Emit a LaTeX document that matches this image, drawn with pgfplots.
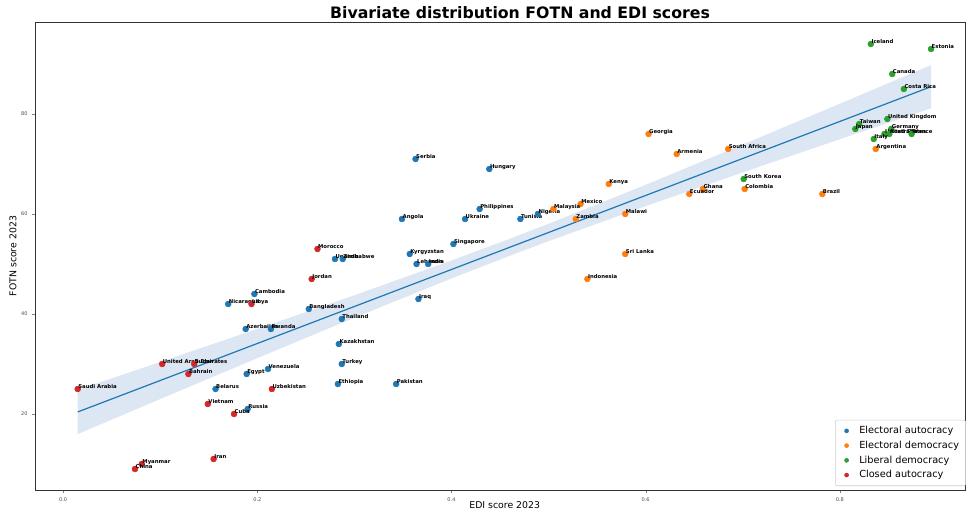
\documentclass[border=0pt]{standalone}
\usepackage{fontspec}
\setmainfont{DejaVu Sans}
\usepackage{pgfplots}
\pgfplotsset{compat=1.18}
\definecolor{cEA}{HTML}{1F77B4}
\definecolor{cED}{HTML}{FF7F0E}
\definecolor{cLD}{HTML}{2CA02C}
\definecolor{cCA}{HTML}{D62728}
\definecolor{band}{HTML}{DCE7F3}
\pgfplotsset{pts/.style={only marks, mark=*, mark size=2.2pt, point meta=explicit symbolic,
  nodes near coords={\pgfplotspointmeta},
  every node near coord/.append style={black, font=\bfseries\fontsize{4}{4.5}\selectfont, anchor=base west, inner sep=0pt, xshift=0.3pt}}}
\begin{document}
\begin{tikzpicture}
\begin{axis}[
  at={(0,0)}, anchor=south west,
  scale only axis, width=697.5pt, height=351pt,
  xmin=-0.029, xmax=0.929, ymin=4.8, ymax=98.4,
  xtick={0,0.2,0.4,0.6,0.8}, ytick={20,40,60,80},
  xticklabel style={/pgf/number format/.cd, fixed, fixed zerofill, precision=1},
  /pgf/number format/assume math mode=true,
  tick label style={font=\fontsize{3.8}{4}\selectfont, color=black!70},
  tick align=outside, major tick length=2pt,
  xtick pos=bottom, ytick pos=left,
  axis line style={black!80, line width=0.5pt},
  title={Bivariate distribution FOTN and EDI scores},
  title style={font=\bfseries\fontsize{11.8}{13}\selectfont, at={(axis description cs:0.5215,1)}, anchor=center, yshift=1.2pt},
  xlabel={EDI score 2023},
  ylabel={FOTN score 2023},
  xlabel style={font=\fontsize{7}{8}\selectfont, at={(axis description cs:0.505,-0.032)}, anchor=center},
  ylabel style={font=\fontsize{7}{8}\selectfont, at={(axis description cs:-0.0237,0.5)}, anchor=center, rotate=0},
  legend style={at={(axis description cs:1.001,0.0085)}, anchor=south east, font=\fontsize{7.3}{8}\selectfont, draw=black!20, rounded corners=1.5pt, row sep=0pt, inner xsep=3pt, inner ysep=2.5pt},
  legend image code/.code={\path[draw=none, fill=none] (0pt,0pt) -- (13pt,0pt); \draw[mark=*, mark size=1.5pt, #1] plot coordinates {(5.5pt,0pt)};},
  legend cell align=left,
  clip=false,
]
\addplot[fill=band, draw=none, forget plot] coordinates {
(0.015,24.83) (0.1,30.41) (0.2,37.03) (0.3,43.74) (0.4,50.69) (0.46,55.04) (0.5,58.04) (0.6,65.83) (0.7,73.88) (0.8,82.05) (0.894,89.78)
(0.894,81.14) (0.8,74.95) (0.7,68.32) (0.6,61.57) (0.5,54.56) (0.46,51.64) (0.4,47.11) (0.3,39.26) (0.2,31.17) (0.1,22.99) (0.015,15.99)
};
\addplot[cEA, line width=0.9pt, no marks, forget plot] coordinates {(0.015,20.41) (0.894,85.46)};
\addplot[cEA, pts] table[x=x, y=y, meta=name, col sep=comma, row sep=\\] {
x,y,name\\
0.363,71,Serbia\\
0.439,69,Hungary\\
0.429,61,Philippines\\
0.349,59,Angola\\
0.414,59,Ukraine\\
0.471,59,Tunisia\\
0.489,60,Nigeria\\
0.402,54,Singapore\\
0.357,52,Kyrgyzstan\\
0.364,50,Lebanon\\
0.376,50,India\\
0.280,51,Uganda\\
0.288,51,Zimbabwe\\
0.197,44,Cambodia\\
0.170,42,Nicaragua\\
0.253,41,Bangladesh\\
0.287,39,Thailand\\
0.366,43,Iraq\\
0.188,37,Azerbaijan\\
0.214,37,Rwanda\\
0.284,34,Kazakhstan\\
0.287,30,Turkey\\
0.211,29,Venezuela\\
0.189,28,Egypt\\
0.157,25,Belarus\\
0.190,21,Russia\\
0.283,26,Ethiopia\\
0.343,26,Pakistan\\
};
\addlegendentry{Electoral autocracy}
\addplot[cED, pts] table[x=x, y=y, meta=name, col sep=comma, row sep=\\] {
x,y,name\\
0.603,76,Georgia\\
0.632,72,Armenia\\
0.685,73,South Africa\\
0.562,66,Kenya\\
0.659,65,Ghana\\
0.645,64,Ecuador\\
0.702,65,Colombia\\
0.782,64,Brazil\\
0.533,62,Mexico\\
0.505,61,Malaysia\\
0.528,59,Zambia\\
0.579,60,Malawi\\
0.579,52,Sri Lanka\\
0.540,47,Indonesia\\
0.837,73,Argentina\\
};
\addlegendentry{Electoral democracy}
\addplot[cLD, pts] table[x=x, y=y, meta=name, col sep=comma, row sep=\\] {
x,y,name\\
0.701,67,South Korea\\
0.832,94,Iceland\\
0.894,93,Estonia\\
0.854,88,Canada\\
0.866,85,Costa Rica\\
0.849,79,United Kingdom\\
0.820,78,Taiwan\\
0.816,77,Japan\\
0.853,77,Germany\\
0.846,76,United States\\
0.851,76,Australia\\
0.874,76,France\\
0.835,75,Italy\\
};
\addlegendentry{Liberal democracy}
\addplot[cCA, pts] table[x=x, y=y, meta=name, col sep=comma, row sep=\\] {
x,y,name\\
0.262,53,Morocco\\
0.256,47,Jordan\\
0.194,42,Libya\\
0.102,30,United Arab Emirates\\
0.135,30,Sudan\\
0.129,28,Bahrain\\
0.015,25,Saudi Arabia\\
0.149,22,Vietnam\\
0.176,20,Cuba\\
0.215,25,Uzbekistan\\
0.155,11,Iran\\
0.081,10,Myanmar\\
0.074,9,China\\
};
\addlegendentry{Closed autocracy}
\end{axis}
\pgfresetboundingbox
\path (-26.25pt,-17.25pt) rectangle (698.25pt,367.5pt);
\end{tikzpicture}
\end{document}
